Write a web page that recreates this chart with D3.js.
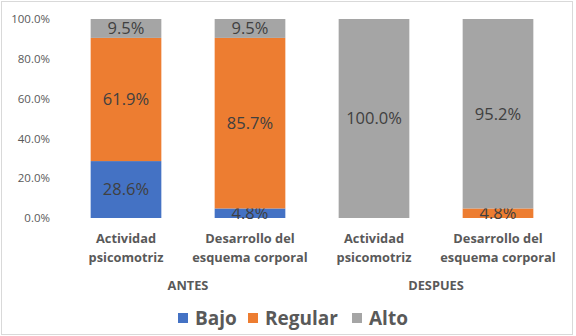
<!DOCTYPE html>
<html>
<head>
<meta charset="utf-8">
<script src="https://cdn.jsdelivr.net/npm/d3@7"></script>
<style>
  body { margin: 0; background: #fff; }
  svg { display: block; font-family: "Open Sans", sans-serif; }
</style>
</head>
<body>
<script>
// chart data
var categories = ["Actividad psicomotriz", "Desarrollo del esquema corporal", "Actividad psicomotriz", "Desarrollo del esquema corporal"];
var catLines = [["Actividad", "psicomotriz"], ["Desarrollo del", "esquema corporal"], ["Actividad", "psicomotriz"], ["Desarrollo del", "esquema corporal"]];
var groups = ["ANTES", "DESPUES"];
var seriesNames = ["Bajo", "Regular", "Alto"];
var bajo = [28.6, 4.8, 0, 0];
var regular = [61.9, 85.7, 0, 4.8];
var alto = [9.5, 9.5, 100, 95.2];
var yTicks = [0, 20, 40, 60, 80, 100];
var colors = ["#4472c4", "#ed7d31", "#a5a5a5"];

var width = 576, height = 336;
var margin = {top: 19, right: 16, bottom: 118, left: 64};

var svg = d3.select("body").append("svg")
  .attr("width", width)
  .attr("height", height);

// outer frame
svg.append("rect")
  .attr("x", 1.5).attr("y", 1.5)
  .attr("width", width - 5).attr("height", height - 3)
  .attr("fill", "#fff")
  .attr("stroke", "#d9d9d9");

var rows = categories.map(function(c, i) {
  return {idx: i, Bajo: bajo[i], Regular: regular[i], Alto: alto[i]};
});

var x = d3.scaleBand()
  .domain(d3.range(categories.length))
  .range([margin.left, width - margin.right])
  .paddingInner(0.43)
  .paddingOuter(0.215);

var y = d3.scaleLinear()
  .domain([0, 100])
  .range([height - margin.bottom, margin.top]);

// y axis labels
var yAxis = svg.append("g")
  .attr("transform", "translate(" + (margin.left - 11) + ",0)")
  .call(d3.axisLeft(y).tickValues(yTicks).tickSize(0).tickFormat(function(d) { return d3.format(".1f")(d) + "%"; }));
yAxis.select(".domain").remove();
yAxis.selectAll("text")
  .attr("fill", "#595959")
  .attr("font-size", "11.5px")
  .attr("font-family", "Open Sans, sans-serif");

var stacked = d3.stack().keys(seriesNames)(rows);

var layer = svg.selectAll(".layer")
  .data(stacked)
  .enter().append("g")
  .attr("class", "layer")
  .attr("fill", function(d, i) { return colors[i]; });

layer.selectAll("rect")
  .data(function(d) { return d; })
  .enter().append("rect")
  .attr("x", function(d) { return x(d.data.idx); })
  .attr("width", x.bandwidth())
  .attr("y", function(d) { return y(d[1]); })
  .attr("height", function(d) { return y(d[0]) - y(d[1]); });

// value labels
layer.selectAll("text")
  .data(function(d) { return d.filter(function(p) { return p[1] - p[0] > 0; }); })
  .enter().append("text")
  .attr("x", function(d) { return x(d.data.idx) + x.bandwidth() / 2; })
  .attr("y", function(d) { return (y(d[0]) + y(d[1])) / 2; })
  .attr("dy", "0.36em")
  .attr("text-anchor", "middle")
  .attr("fill", "#404040")
  .attr("font-size", "16.5px")
  .text(function(d) { return d3.format(".1f")(d[1] - d[0]) + "%"; });

// category labels
var catG = svg.append("g");
catLines.forEach(function(lines, i) {
  var t = catG.append("text")
    .attr("x", x(i) + x.bandwidth() / 2)
    .attr("y", 243)
    .attr("text-anchor", "middle")
    .attr("fill", "#595959")
    .attr("font-size", "12.8px")
    .attr("font-weight", "bold");
  lines.forEach(function(l, k) {
    t.append("tspan")
      .attr("x", x(i) + x.bandwidth() / 2)
      .attr("dy", k === 0 ? 0 : 19)
      .text(l);
  });
});

// group labels
groups.forEach(function(g, j) {
  var cx = (x(j * 2) + x(j * 2 + 1) + x.bandwidth()) / 2;
  svg.append("text")
    .attr("x", cx)
    .attr("y", 290)
    .attr("text-anchor", "middle")
    .attr("fill", "#595959")
    .attr("font-size", "12.8px")
    .attr("font-weight", "bold")
    .text(g);
});

// legend
var legendX = [178, 248, 352];
var legend = svg.selectAll(".legend")
  .data(seriesNames)
  .enter().append("g")
  .attr("class", "legend")
  .attr("transform", function(d, i) { return "translate(" + legendX[i] + ",313)"; });
legend.append("rect")
  .attr("width", 10).attr("height", 10)
  .attr("fill", function(d, i) { return colors[i]; });
legend.append("text")
  .attr("x", 17)
  .attr("y", 5)
  .attr("dy", "0.36em")
  .attr("fill", "#595959")
  .attr("font-size", "19px")
  .attr("font-weight", "bold")
  .text(function(d) { return d; });
</script>
</body>
</html>
